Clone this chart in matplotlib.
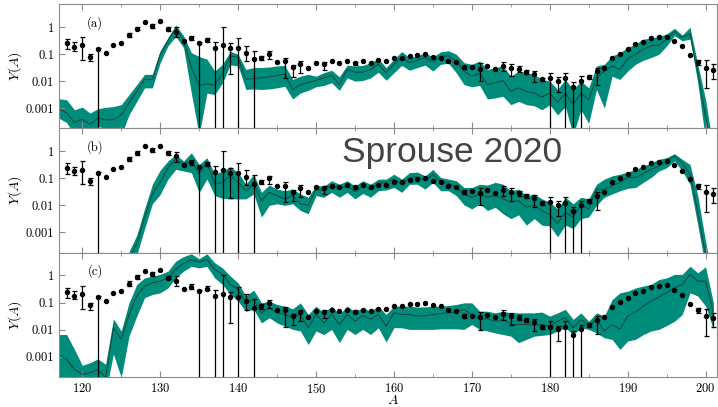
import numpy as np
import matplotlib
matplotlib.use("Agg")
import matplotlib.pyplot as plt
from matplotlib.ticker import MultipleLocator

plt.rcParams['font.family'] = 'cmr10'
plt.rcParams['mathtext.fontset'] = 'cm'
plt.rcParams['axes.formatter.use_mathtext'] = True

# mass numbers of the model bands
A_band = np.arange(117, 202)

# log10 Y(A): upper edge, centre line, lower edge
a_up = [-2.65, -2.69, -3.06, -2.96, -3.18, -3.02, -2.97, -2.94, -2.87, -2.50,
        -2.13, -1.75, -1.75, -0.88, -0.39, 0.07, -0.32, -0.95, -1.09, -1.19,
        -1.63, -1.38, -0.90, -1.01, -1.57, -1.50, -1.50, -1.48, -1.44, -1.42,
        -1.94, -1.82, -1.75, -1.82, -1.69, -1.60, -1.84, -1.41, -1.44, -1.42,
        -1.32, -1.17, -1.50, -1.19, -0.91, -1.13, -1.07, -0.95, -1.11, -0.92,
        -0.88, -1.01, -1.32, -1.38, -1.26, -1.57, -1.50, -1.44, -1.82, -1.63,
        -1.69, -1.75, -1.94, -2.00, -2.31, -1.94, -2.31, -2.00, -2.25, -1.44,
        -1.38, -1.07, -0.95, -0.76, -0.63, -0.45, -0.41, -0.35, -0.26, -0.05,
        -0.30, -0.01, -1.38, -2.69, -4.50]
a_mid = [-3.02, -3.18, -3.53, -3.41, -3.59, -3.37, -3.43, -3.43, -3.25, -2.81,
         -2.38, -1.94, -1.94, -1.01, -0.51, -0.05, -0.51, -1.50, -2.16, -2.10,
         -2.16, -1.72, -1.07, -1.13, -1.94, -1.90, -1.88, -1.84, -1.79, -1.75,
         -2.31, -2.13, -2.06, -1.97, -1.88, -1.79, -2.13, -1.57, -1.67, -1.67,
         -1.57, -1.38, -1.69, -1.38, -1.13, -1.32, -1.23, -1.13, -1.29, -1.09,
         -1.07, -1.26, -1.63, -1.82, -1.72, -2.13, -2.06, -1.98, -2.38, -2.25,
         -2.38, -2.44, -2.59, -2.44, -2.79, -2.44, -2.87, -2.44, -2.69, -1.88,
         -1.63, -1.44, -1.57, -1.19, -1.01, -0.82, -0.70, -0.67, -0.45, -0.17,
         -0.39, -0.26, -1.69, -3.31, -4.80]
a_lo = [-3.37, -3.53, -4.00, -3.74, -4.00, -3.68, -3.74, -3.74, -4.00, -3.25,
        -2.75, -2.25, -2.25, -1.32, -0.70, -0.35, -0.76, -2.44, -4.00, -2.44,
        -2.50, -2.06, -1.40, -1.44, -2.31, -2.29, -2.31, -2.29, -2.25, -2.19,
        -2.66, -2.44, -2.34, -2.21, -2.16, -2.06, -2.34, -1.88, -2.00, -1.98,
        -1.88, -1.67, -1.97, -1.69, -1.42, -1.60, -1.50, -1.41, -1.63, -1.38,
        -1.34, -1.69, -2.13, -2.21, -2.16, -2.66, -2.62, -2.56, -2.87, -2.75,
        -2.87, -2.91, -3.06, -2.87, -3.25, -2.94, -4.00, -3.06, -3.56, -2.31,
        -3.00, -1.82, -1.94, -1.63, -1.38, -1.23, -1.13, -1.01, -0.70, -0.32,
        -0.51, -0.45, -2.06, -4.20, -5.00]

b_up = [-5.0, -5.0, -5.0, -5.0, -5.0, -5.0, -5.0, -5.0, -5.0, -3.71,
        -3.10, -2.13, -1.22, -0.70, -0.36, -0.12, -0.36, -0.06, -0.49, -0.24,
        -0.85, -0.73, -0.57, -0.79, -1.22, -0.85, -1.52, -1.25, -1.40, -1.46,
        -1.40, -1.58, -1.70, -1.25, -1.30, -1.09, -1.22, -1.09, -1.28, -1.09,
        -1.22, -1.03, -1.03, -0.85, -1.03, -0.79, -0.77, -0.91, -0.67, -0.97,
        -1.03, -1.09, -1.34, -1.34, -1.22, -1.25, -1.15, -1.22, -1.46, -1.40,
        -1.64, -1.58, -1.76, -1.88, -2.13, -1.70, -1.94, -1.70, -1.76, -1.22,
        -1.03, -0.91, -0.85, -0.77, -0.67, -0.55, -0.43, -0.30, -0.24, -0.09,
        -0.30, -0.49, -1.64, -3.34, -4.80]
b_mid = [-5.2, -5.2, -5.2, -5.2, -5.2, -5.2, -5.2, -5.2, -5.2, -4.00,
         -3.40, -2.43, -1.58, -1.15, -0.61, -0.30, -0.49, -0.36, -0.85, -0.43,
         -1.22, -1.15, -0.91, -1.15, -1.46, -1.22, -1.82, -1.52, -1.64, -1.76,
         -1.64, -1.94, -2.00, -1.40, -1.46, -1.25, -1.40, -1.28, -1.49, -1.28,
         -1.40, -1.18, -1.15, -1.03, -1.22, -0.97, -0.95, -1.09, -0.85, -1.15,
         -1.18, -1.34, -1.58, -1.70, -1.58, -1.70, -1.64, -1.76, -1.88, -1.82,
         -2.07, -1.98, -2.19, -2.35, -2.67, -2.25, -2.43, -2.00, -2.13, -1.40,
         -1.40, -1.28, -1.15, -0.97, -0.97, -0.83, -0.67, -0.55, -0.36, -0.18,
         -0.43, -0.85, -2.25, -3.83, -5.00]
b_lo = [-5.4, -5.4, -5.4, -5.4, -5.4, -5.4, -5.4, -5.4, -5.4, -4.30,
        -3.83, -2.86, -1.94, -1.60, -1.03, -0.67, -0.73, -0.79, -1.52, -1.03,
        -1.64, -1.74, -1.76, -1.76, -1.76, -1.58, -2.43, -2.00, -1.94, -2.00,
        -1.94, -2.19, -2.31, -1.64, -1.70, -1.52, -1.70, -1.52, -1.76, -1.56,
        -1.70, -1.46, -1.43, -1.34, -1.52, -1.22, -1.22, -1.40, -1.15, -1.46,
        -1.46, -1.64, -1.98, -2.13, -1.94, -2.19, -2.07, -2.31, -2.49, -2.35,
        -2.73, -2.49, -2.73, -2.76, -3.16, -2.73, -2.86, -2.49, -2.43, -2.00,
        -1.70, -1.58, -1.46, -1.37, -1.34, -1.15, -0.97, -0.73, -0.61, -0.36,
        -0.73, -1.22, -2.73, -4.31, -5.20]

c_up = [-2.18, -2.18, -2.73, -3.32, -3.22, -3.08, -3.28, -1.60, -2.05, -1.01,
        -0.33, -0.09, -0.02, 0.04, 0.16, 0.53, 0.70, 0.80, 0.62, 0.80,
        0.47, 0.28, -0.02, -0.27, -0.76, -0.54, -1.01, -0.95, -1.07, -1.13,
        -1.23, -1.01, -1.44, -1.13, -1.38, -1.13, -1.44, -1.13, -1.35, -1.19,
        -1.32, -1.13, -1.44, -1.13, -1.13, -1.13, -1.17, -1.16, -1.13, -1.13,
        -1.11, -1.07, -1.01, -1.01, -1.32, -1.32, -1.38, -1.32, -1.38, -1.38,
        -1.38, -1.38, -1.35, -1.50, -1.38, -1.25, -1.62, -1.38, -1.69, -1.38,
        -1.50, -0.89, -0.64, -0.58, -0.46, -0.39, -0.33, -0.15, -0.09, 0.04,
        0.04, 0.34, 0.10, 0.32, -1.01]
c_mid = [-2.92, -3.10, -3.47, -3.65, -3.59, -3.47, -3.77, -1.93, -2.36, -1.44,
         -0.76, -0.39, -0.27, -0.21, -0.09, 0.22, 0.45, 0.58, 0.50, 0.60,
         0.22, 0.04, -0.33, -0.52, -1.01, -0.89, -1.38, -1.19, -1.38, -1.44,
         -1.56, -1.44, -1.93, -1.44, -1.75, -1.44, -1.81, -1.44, -1.69, -1.48,
         -1.62, -1.44, -1.87, -1.38, -1.44, -1.44, -1.50, -1.48, -1.44, -1.41,
         -1.38, -1.35, -1.25, -1.44, -1.60, -1.60, -1.69, -1.62, -1.81, -1.81,
         -1.81, -1.83, -1.81, -1.87, -1.69, -1.56, -1.93, -1.62, -1.87, -1.62,
         -2.05, -1.81, -1.99, -1.50, -1.35, -1.13, -0.95, -0.79, -0.64, -0.46,
         -0.33, 0.04, -0.21, -0.21, -1.38]
c_lo = [-3.71, -3.96, -4.20, -4.33, -4.33, -4.33, -4.33, -2.90, -3.77, -2.24,
        -1.50, -0.82, -0.70, -0.64, -0.46, -0.09, 0.16, 0.34, 0.28, 0.34,
        -0.09, -0.33, -0.70, -0.95, -1.32, -1.25, -1.75, -1.56, -1.75, -1.87,
        -1.99, -2.05, -2.55, -2.05, -2.18, -1.99, -2.48, -1.99, -2.18, -1.99,
        -2.18, -1.93, -2.46, -1.93, -1.93, -1.99, -1.99, -1.99, -1.99, -1.97,
        -1.97, -1.97, -1.99, -1.81, -1.99, -2.05, -2.12, -2.18, -2.24, -2.48,
        -2.36, -2.24, -2.21, -2.18, -2.05, -1.93, -2.18, -1.93, -1.99, -2.12,
        -2.30, -2.36, -2.73, -2.42, -2.36, -2.18, -2.05, -1.99, -1.85, -1.69,
        -1.44, -0.64, -0.76, -1.13, -1.99]

# observed solar r-process abundances
A_obs = np.arange(118, 202)
Y_obs = [0.25, 0.18, 0.21, 0.08, 0.155, 0.11, 0.22, 0.26, 0.5, 0.87,
         1.5, 1.1, 1.6, 0.84, 0.65, 0.31, 0.39, 0.26, 0.33, 0.17,
         0.21, 0.16, 0.16, 0.11, 0.064, 0.072, 0.10, 0.052, 0.054, 0.032,
         0.044, 0.030, 0.048, 0.044, 0.054, 0.048, 0.055, 0.046, 0.055, 0.048,
         0.059, 0.057, 0.072, 0.072, 0.085, 0.091, 0.10, 0.081, 0.072, 0.054,
         0.049, 0.032, 0.033, 0.029, 0.036, 0.029, 0.037, 0.031, 0.028, 0.022,
         0.019, 0.012, 0.013, 0.0105, 0.0125, 0.0061, 0.0102, 0.0145, 0.023, 0.03,
         0.07, 0.104, 0.147, 0.23, 0.27, 0.38, 0.41, 0.44, 0.30, 0.19,
         0.091, 0.051, 0.031, 0.026]

# error bars (lower, upper); 1e-6 means the bar runs off the bottom
err_A = [118, 119, 120, 121, 122, 126, 127, 129, 131, 132, 134, 135, 136, 137,
         138, 139, 140, 141, 142, 143, 144, 146, 147, 148, 151, 155, 169, 171,
         174, 175, 176, 177, 178, 179, 180, 181, 182, 183, 184, 185, 186, 199,
         200, 201]
err_lo = [0.15, 0.13, 0.06, 0.055, 1e-6, 0.42, 0.75, 0.95, 0.72, 0.41, 0.32, 1e-6,
          0.28, 1e-6, 1e-6, 0.018, 1e-6, 0.055, 1e-6, 0.06, 0.064, 0.013, 0.0145,
          0.02, 0.026, 0.04, 0.027, 0.01, 0.023, 0.015, 0.022, 0.019, 0.009,
          0.0105, 1e-6, 0.0039, 1e-6, 1e-6, 1e-6, 0.012, 0.007, 0.04, 0.0056, 0.012]
err_hi = [0.36, 0.27, 0.42, 0.1, 0.17, 0.6, 1.0, 1.3, 0.98, 0.97, 0.47, 0.28,
          0.4, 0.28, 1.0, 0.25, 0.38, 0.2, 0.13, 0.085, 0.125, 0.07, 0.038,
          0.055, 0.052, 0.052, 0.037, 0.045, 0.051, 0.042, 0.035, 0.026, 0.024,
          0.0135, 0.02, 0.014, 0.02, 0.009, 0.015, 0.017, 0.031, 0.062, 0.059, 0.042]

panels = [("(a)", a_up, a_mid, a_lo),
          ("(b)", b_up, b_mid, b_lo),
          ("(c)", c_up, c_mid, c_lo)]

teal = "#008c7a"
spine_col = "#8a8a8a"

fig, axes = plt.subplots(3, 1, sharex=True, figsize=(7.18, 4.07), dpi=100)
fig.subplots_adjust(left=0.082, right=0.999, bottom=0.074, top=0.99, hspace=0)

y_obs = np.array(Y_obs)
e_y = np.array([Y_obs[a - 118] for a in err_A])
yerr = [e_y - np.array(err_lo), np.array(err_hi) - e_y]

for ax, (lab, up, mid, lo) in zip(axes, panels):
    ax.set_yscale('log')
    ax.fill_between(A_band, 10 ** np.array(lo), 10 ** np.array(up),
                    color=teal, lw=0, zorder=1)
    ax.plot(A_band, 10 ** np.array(mid), color="#17453f", lw=0.7, zorder=2)
    ax.errorbar(err_A, e_y, yerr=yerr, fmt='none', ecolor='black',
                elinewidth=0.9, capsize=1.8, capthick=0.9, zorder=3)
    ax.plot(A_obs, y_obs, 'o', color='black', ms=2.9, zorder=4)
    ax.set_xlim(117, 201.5)
    ax.set_ylim(1.8e-4, 7)
    ax.set_yticks([1e-3, 1e-2, 1e-1, 1])
    ax.set_yticklabels(["0.001", "0.01", "0.1", "1"])
    ax.yaxis.set_minor_locator(matplotlib.ticker.NullLocator())
    ax.xaxis.set_major_locator(MultipleLocator(10))
    ax.xaxis.set_minor_locator(MultipleLocator(5))
    ax.tick_params(which='both', direction='in', top=True, color=spine_col,
                   labelsize=9)
    ax.tick_params(which='major', length=4)
    ax.tick_params(which='minor', length=2)
    for s in ax.spines.values():
        s.set_color(spine_col)
    ax.set_ylabel(r"$Y(A)$", fontsize=10, labelpad=1)
    ax.text(0.055, 0.85, lab, transform=ax.transAxes, fontsize=9,
            ha='center', va='center')

axes[-1].set_xlabel(r"$A$", fontsize=10)
axes[-1].xaxis.set_label_coords(0.508, -0.14)

fig.text(342 / 718, 1 - 162 / 407, "Sprouse 2020", family="Liberation Sans",
         fontsize=25.5, color="#444444", va='baseline', ha='left')

fig.savefig("out.png", dpi=100)
